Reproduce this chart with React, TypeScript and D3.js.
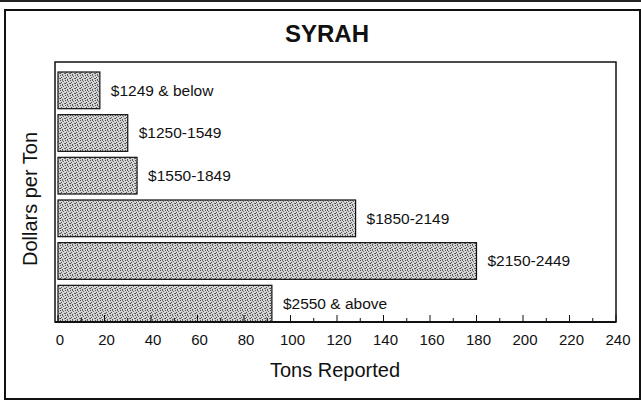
import React, { useEffect, useRef } from 'react';
import { select, scaleLinear, scaleBand, range } from 'd3';

const categories = ['$1249 & below', '$1250-1549', '$1550-1849', '$1850-2149', '$2150-2449', '$2550 & above'];
const tons = [18, 30, 34, 128, 180, 92];
const majorTicks = [0, 20, 40, 60, 80, 100, 120, 140, 160, 180, 200, 220, 240];

const W = 641;
const H = 402;
const plot = { left: 55, right: 616, top: 62, bottom: 322 };

// scattered dark pixels inside a 5x5 tile, for the scan-like stipple
const dots = [[0, 0], [3, 1], [1, 2], [4, 3], [2, 4], [2, 0], [0, 3]];

const App = () => {
  const svgRef = useRef<SVGSVGElement>(null);

  useEffect(() => {
    const svg = select(svgRef.current);
    svg.selectAll('*').remove();

    const font = 'Arial, "Liberation Sans", sans-serif';

    const defs = svg.append('defs');
    const pat = defs.append('pattern')
      .attr('id', 'stipple')
      .attr('width', 5)
      .attr('height', 5)
      .attr('patternUnits', 'userSpaceOnUse');
    pat.append('rect').attr('width', 5).attr('height', 5).attr('fill', '#d4d4d4');
    pat.selectAll('.dot')
      .data(dots)
      .join('rect')
      .attr('class', 'dot')
      .attr('x', d => d[0]).attr('y', d => d[1])
      .attr('width', 1).attr('height', 1)
      .attr('fill', (d, i) => (i % 2 ? '#6a6a6a' : '#505050'));

    // outer frame
    svg.append('rect')
      .attr('x', 5).attr('y', 10)
      .attr('width', W - 6).attr('height', H - 13)
      .attr('fill', 'white')
      .attr('stroke', '#111')
      .attr('stroke-width', 2);
    svg.append('line')
      .attr('x1', 0).attr('x2', W).attr('y1', 1).attr('y2', 1)
      .attr('stroke', '#222').attr('stroke-width', 2);

    const x = scaleLinear().domain([0, 240]).range([58, plot.right]);
    const y = scaleBand<string>()
      .domain(categories)
      .range([72, plot.bottom])
      .paddingInner(0.14)
      .paddingOuter(0);

    // plot frame
    svg.append('rect')
      .attr('x', plot.left).attr('y', plot.top)
      .attr('width', plot.right - plot.left).attr('height', plot.bottom - plot.top)
      .attr('fill', 'none')
      .attr('stroke', '#111')
      .attr('stroke-width', 1.5);

    // bars
    svg.selectAll('.bar')
      .data(tons)
      .join('rect')
      .attr('class', 'bar')
      .attr('x', x(0))
      .attr('y', (d, i) => y(categories[i]) as number)
      .attr('width', d => x(d) - x(0))
      .attr('height', y.bandwidth())
      .attr('fill', 'url(#stipple)')
      .attr('stroke', '#111')
      .attr('stroke-width', 1.2);

    svg.selectAll('.bar-label')
      .data(tons)
      .join('text')
      .attr('class', 'bar-label')
      .attr('x', d => x(d) + 11)
      .attr('y', (d, i) => (y(categories[i]) as number) + y.bandwidth() / 2)
      .attr('dy', '0.35em')
      .attr('font-family', font)
      .attr('font-size', 15.5)
      .attr('fill', '#111')
      .text((d, i) => categories[i]);

    // x axis, ticks point up into the plot
    svg.append('line')
      .attr('x1', plot.left).attr('x2', plot.right)
      .attr('y1', plot.bottom).attr('y2', plot.bottom)
      .attr('stroke', '#111').attr('stroke-width', 2);

    svg.selectAll('.tick')
      .data(range(0, 241, 10))
      .join('line')
      .attr('class', 'tick')
      .attr('x1', d => x(d)).attr('x2', d => x(d))
      .attr('y1', plot.bottom)
      .attr('y2', d => plot.bottom - (d % 20 === 0 ? 7 : 4))
      .attr('stroke', '#111')
      .attr('stroke-width', 1);

    svg.selectAll('.tick-label')
      .data(majorTicks)
      .join('text')
      .attr('class', 'tick-label')
      .attr('x', d => x(d) + 2)
      .attr('y', 345)
      .attr('text-anchor', 'middle')
      .attr('font-family', font)
      .attr('font-size', 15)
      .attr('fill', '#111')
      .text(d => d);

    // titles
    svg.append('text')
      .attr('x', 327).attr('y', 42)
      .attr('text-anchor', 'middle')
      .attr('font-family', font)
      .attr('font-weight', 'bold')
      .attr('font-size', 24)
      .attr('fill', '#111')
      .text('SYRAH');

    svg.append('text')
      .attr('x', 335).attr('y', 377)
      .attr('text-anchor', 'middle')
      .attr('font-family', font)
      .attr('font-size', 20)
      .attr('fill', '#111')
      .text('Tons Reported');

    svg.append('text')
      .attr('transform', 'translate(37, 199) rotate(-90)')
      .attr('text-anchor', 'middle')
      .attr('font-family', font)
      .attr('font-size', 20)
      .attr('fill', '#111')
      .text('Dollars per Ton');
  }, []);

  return (
    <svg
      ref={svgRef}
      width={W}
      height={H}
      style={{ position: 'absolute', left: 0, top: 0, background: 'white' }}
    />
  );
};

export default App;
